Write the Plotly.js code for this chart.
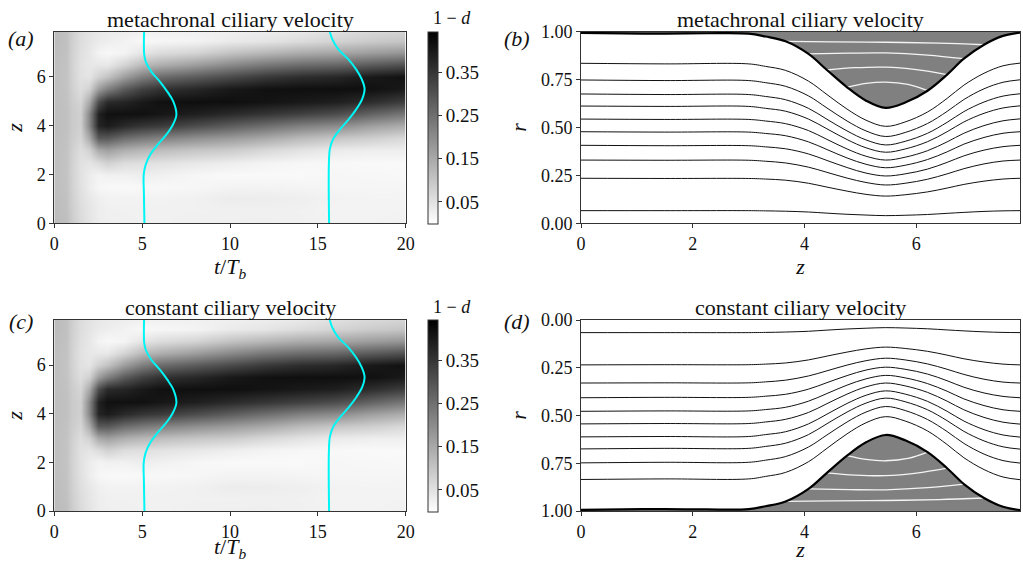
<!DOCTYPE html>
<html><head><meta charset="utf-8">
<script src="https://cdn.plot.ly/plotly-3.0.1.min.js"></script>
<style>html,body{margin:0;padding:0;background:#fff;}#plot{width:1023px;height:562px;}</style>
</head><body><div id="plot"></div>
<script>
// ---------- data: 1-d field (columns per time t, rows per z) ----------
const tGrid = [0, 0.7, 1, 1.5, 2, 2.5, 3, 4, 5, 6, 8, 10, 12, 14, 16, 18, 20];
const zGrid = [0, 0.5, 1, 1.5, 2, 2.5, 3, 3.5, 4, 4.5, 5, 5.5, 6, 6.5, 7, 7.5, 7.854];
const oneMinusD = [
  [.118,.117,.115,.113,.112,.112,.112,.113,.114,.114,.113,.112,.112,.113,.115,.117,.118],
  [.110,.108,.106,.104,.103,.103,.104,.106,.108,.108,.106,.104,.103,.104,.106,.108,.109],
  [.085,.083,.080,.077,.076,.077,.080,.086,.090,.090,.086,.080,.076,.076,.078,.080,.082],
  [.062,.060,.056,.052,.050,.052,.058,.072,.082,.082,.072,.058,.052,.050,.054,.058,.060],
  [.045,.043,.040,.030,.032,.045,.080,.150,.210,.210,.150,.080,.045,.040,.040,.045,.048],
  [.032,.030,.028,.015,.020,.060,.150,.290,.380,.385,.310,.170,.080,.040,.020,.035,.040],
  [.028,.026,.022,.012,.025,.080,.165,.290,.395,.415,.370,.220,.105,.040,.012,.030,.035],
  [.026,.025,.022,.010,.025,.060,.140,.255,.370,.415,.380,.285,.170,.075,.020,.022,.030],
  [.025,.025,.022,.012,.030,.055,.125,.235,.350,.415,.400,.330,.225,.120,.045,.012,.025],
  [.025,.025,.022,.012,.025,.050,.115,.220,.340,.405,.415,.355,.255,.140,.060,.015,.025],
  [.026,.025,.025,.015,.015,.040,.100,.195,.310,.390,.418,.375,.285,.170,.075,.020,.025],
  [.028,.025,.033,.020,.010,.030,.090,.175,.280,.370,.418,.400,.315,.205,.105,.035,.028],
  [.028,.026,.032,.020,.010,.020,.068,.150,.250,.350,.410,.415,.345,.235,.125,.045,.032],
  [.026,.025,.028,.018,.010,.015,.050,.120,.220,.330,.400,.418,.365,.255,.145,.060,.040],
  [.022,.020,.022,.016,.015,.012,.035,.100,.200,.310,.390,.418,.375,.265,.155,.075,.055],
  [.022,.020,.020,.016,.014,.010,.030,.085,.165,.270,.365,.415,.400,.285,.170,.090,.068],
  [.025,.022,.020,.017,.012,.010,.030,.065,.140,.235,.335,.400,.415,.305,.185,.100,.075]
];
const cbTicks = [0.05, 0.15, 0.25, 0.35];

// cyan profile curves (t position vs z)
const prof1Z = [0, 1.2, 2.0, 2.4, 2.8, 3.2, 3.6, 4.0, 4.45, 5.0, 5.4, 5.8, 6.2, 6.6, 6.9, 7.854];
const prof1T = [5.13, 5.10, 5.09, 5.20, 5.45, 5.86, 6.34, 6.72, 6.95, 6.77, 6.43, 6.02, 5.54, 5.22, 5.12, 5.11];
const prof2Z = [0, 2.5, 3.07, 3.47, 3.88, 4.29, 4.70, 5.10, 5.51, 5.92, 6.32, 6.73, 7.14, 7.55, 7.854];
const prof2T = [15.64, 15.63, 15.69, 15.88, 16.30, 16.79, 17.21, 17.53, 17.66, 17.49, 17.17, 16.73, 16.16, 15.82, 15.68];

// ---------- data: streamlines panels ----------
const wallZ = [0, 0.75, 1.5, 2.25, 3.0, 3.3, 3.66, 4.07, 4.40, 4.76, 5.1, 5.45, 5.8, 6.2, 6.55, 6.85, 7.21, 7.55, 7.854];
const wallR = [0.994, 0.991, 0.990, 0.992, 0.990, 0.975, 0.950, 0.884, 0.800, 0.710, 0.640, 0.602, 0.630, 0.692, 0.776, 0.859, 0.932, 0.978, 0.995];

const slZ = [0, 1.5, 3.0, 3.3, 3.66, 4.07, 4.40, 4.76, 5.1, 5.45, 5.8, 6.2, 6.55, 6.85, 7.21, 7.55, 7.854];
const streamR = [
  [0.835,0.832,0.832,0.819,0.798,0.742,0.672,0.596,0.538,0.506,0.529,0.581,0.652,0.721,0.783,0.822,0.836],
  [0.748,0.745,0.745,0.734,0.715,0.665,0.602,0.534,0.482,0.453,0.474,0.521,0.584,0.646,0.702,0.736,0.749],
  [0.675,0.672,0.672,0.662,0.645,0.600,0.543,0.482,0.435,0.409,0.428,0.470,0.527,0.583,0.633,0.664,0.676],
  [0.612,0.610,0.610,0.600,0.585,0.544,0.493,0.437,0.394,0.371,0.388,0.426,0.478,0.529,0.574,0.602,0.613],
  [0.544,0.542,0.542,0.534,0.520,0.484,0.438,0.388,0.350,0.330,0.345,0.379,0.425,0.470,0.510,0.535,0.545],
  [0.478,0.476,0.476,0.469,0.457,0.425,0.385,0.341,0.308,0.290,0.303,0.333,0.373,0.413,0.448,0.470,0.478],
  [0.407,0.405,0.405,0.399,0.389,0.362,0.328,0.291,0.262,0.247,0.258,0.283,0.318,0.352,0.382,0.400,0.407],
  [0.330,0.329,0.329,0.324,0.315,0.293,0.266,0.236,0.213,0.200,0.209,0.230,0.258,0.285,0.310,0.325,0.330],
  [0.235,0.234,0.234,0.231,0.225,0.209,0.189,0.168,0.151,0.142,0.149,0.164,0.184,0.203,0.220,0.231,0.235],
  [0.066,0.066,0.066,0.065,0.063,0.059,0.053,0.047,0.043,0.040,0.042,0.046,0.052,0.057,0.062,0.065,0.066]
];
const ciliaZ = [
  [3.66, 4.5, 5.45, 6.4, 7.21],
  [4.07, 4.8, 5.45, 6.2, 6.85],
  [4.40, 4.9, 5.45, 6.0, 6.55],
  [4.76, 5.1, 5.45, 5.85, 6.2]
];
const ciliaR = [
  [0.950, 0.947, 0.945, 0.940, 0.932],
  [0.884, 0.888, 0.889, 0.878, 0.859],
  [0.800, 0.812, 0.815, 0.802, 0.776],
  [0.710, 0.730, 0.737, 0.725, 0.692]
];

const titleTop = 'metachronal ciliary velocity';
const titleBottom = 'constant ciliary velocity';
const panelLabels = ['(a)', '(b)', '(c)', '(d)'];

// ---------- build ----------
const FONT = 'Liberation Serif, DejaVu Serif, serif';
const W = 1023, H = 562;
const px = v => v / W, py = v => 1 - v / H;
const zRows = zGrid.map((_, i) => tGrid.map((_, j) => oneMinusD[j][i]));

function heat(xa, ya, cy) {
  return {
    type: 'heatmap', x: tGrid, y: zGrid, z: zRows, zsmooth: 'best',
    zmin: 0, zmax: 0.444, colorscale: [[0, '#ffffff'], [1, '#000000']],
    xaxis: xa, yaxis: ya, hoverinfo: 'skip',
    colorbar: {
      x: px(427.7), xanchor: 'left', xpad: 0, ypad: 0, y: cy, yanchor: 'middle',
      len: 191.6 / H, lenmode: 'fraction', thickness: 10, thicknessmode: 'pixels',
      outlinewidth: 1, outlinecolor: '#333', tickvals: cbTicks,
      ticktext: cbTicks.map(v => v.toFixed(2)), ticks: 'outside', ticklen: 4,
      tickcolor: '#333', tickfont: { family: FONT, size: 19, color: '#111' }
    }
  };
}
function cyan(zs, ts, xa, ya) {
  return { type: 'scatter', mode: 'lines', x: ts, y: zs, xaxis: xa, yaxis: ya,
    line: { color: '#00f5f5', width: 2, shape: 'spline' }, hoverinfo: 'skip' };
}
function streamPanel(xa, ya) {
  const tr = [];
  tr.push({ type: 'scatter', mode: 'lines', x: wallZ, y: wallR, xaxis: xa, yaxis: ya,
    line: { width: 0, shape: 'spline' }, hoverinfo: 'skip' });
  tr.push({ type: 'scatter', mode: 'lines', x: [0, 7.854], y: [1, 1], xaxis: xa, yaxis: ya,
    line: { width: 0 }, fill: 'tonexty', fillcolor: '#808080', hoverinfo: 'skip' });
  ciliaZ.forEach((zs, k) => tr.push({ type: 'scatter', mode: 'lines', x: zs, y: ciliaR[k],
    xaxis: xa, yaxis: ya, line: { color: '#f4f4f4', width: 1.3, shape: 'spline' }, hoverinfo: 'skip' }));
  streamR.forEach(rs => tr.push({ type: 'scatter', mode: 'lines', x: slZ, y: rs,
    xaxis: xa, yaxis: ya, line: { color: '#111', width: 1, shape: 'spline' }, hoverinfo: 'skip' }));
  tr.push({ type: 'scatter', mode: 'lines', x: wallZ, y: wallR, xaxis: xa, yaxis: ya,
    line: { color: '#000', width: 2.2, shape: 'spline' }, hoverinfo: 'skip' });
  return tr;
}

const data = [
  heat('x', 'y', (py(31.7) + py(223.3)) / 2),
  cyan(prof1Z, prof1T, 'x', 'y'), cyan(prof2Z, prof2T, 'x', 'y'),
  heat('x3', 'y3', (py(320) + py(511)) / 2),
  cyan(prof1Z, prof1T, 'x3', 'y3'), cyan(prof2Z, prof2T, 'x3', 'y3'),
  ...streamPanel('x2', 'y2'),
  ...streamPanel('x4', 'y4')
];

const axBase = {
  showline: true, mirror: true, linecolor: '#333', linewidth: 1,
  ticks: 'outside', ticklen: 4, tickwidth: 1, tickcolor: '#333',
  showgrid: false, zeroline: false, fixedrange: true,
  tickfont: { family: FONT, size: 18, color: '#111' }
};
const axTitleFont = { family: FONT, size: 22, color: '#111' };
const xLeft = [px(54.3), px(405.7)], xRight = [px(581), px(1020)];
const yTop = [py(223.3), py(31.7)], yBot = [py(511), py(320)];

function tAxis(anchor) {
  return Object.assign({}, axBase, { domain: xLeft, anchor, range: [0, 20], tickvals: [0, 5, 10, 15, 20],
    title: { text: '<i>t</i>/<i>T<sub>b</sub></i>', font: axTitleFont, standoff: 4 } });
}
function zAxisL(anchor, dom) {
  return Object.assign({}, axBase, { domain: dom, anchor, range: [0, 7.854], tickvals: [0, 2, 4, 6],
    title: { text: '<i>z</i>', font: axTitleFont, standoff: 8 } });
}
function zAxisR(anchor) {
  return Object.assign({}, axBase, { domain: xRight, anchor, range: [0, 7.854], tickvals: [0, 2, 4, 6],
    title: { text: '<i>z</i>', font: axTitleFont, standoff: 4 } });
}
function rAxis(anchor, dom, rng) {
  return Object.assign({}, axBase, { domain: dom, anchor, range: rng, tickvals: [0, 0.25, 0.5, 0.75, 1],
    ticktext: ['0.00', '0.25', '0.50', '0.75', '1.00'],
    title: { text: '<i>r</i>', font: axTitleFont, standoff: 8 } });
}

function ann(text, x, y, size) {
  return { text, x: px(x), y: py(y), xref: 'paper', yref: 'paper', showarrow: false,
    xanchor: 'center', yanchor: 'middle', font: { family: FONT, size, color: '#111' } };
}

const layout = {
  width: W, height: H, margin: { l: 0, r: 0, t: 0, b: 0 },
  paper_bgcolor: '#fff', plot_bgcolor: '#fff', showlegend: false,
  xaxis: tAxis('y'), yaxis: zAxisL('x', yTop),
  xaxis2: zAxisR('y2'), yaxis2: rAxis('x2', yTop, [0, 1]),
  xaxis3: tAxis('y3'), yaxis3: zAxisL('x3', yBot),
  xaxis4: zAxisR('y4'), yaxis4: rAxis('x4', yBot, [1, 0]),
  annotations: [
    ann(titleTop, 230, 19, 22),
    ann(titleTop, 800, 19, 22),
    ann(titleBottom, 230, 307, 22),
    ann(titleBottom, 800, 307, 22),
    ann('<i>' + panelLabels[0] + '</i>', 21, 38, 22),
    ann('<i>' + panelLabels[1] + '</i>', 517, 38, 22),
    ann('<i>' + panelLabels[2] + '</i>', 21, 321, 22),
    ann('<i>' + panelLabels[3] + '</i>', 517, 321, 22),
    ann('1 \u2212 <i>d</i>', 452, 18, 18),
    ann('1 \u2212 <i>d</i>', 452, 307, 18)
  ]
};

Plotly.newPlot('plot', data, layout, { staticPlot: true, displayModeBar: false });
</script></body></html>
